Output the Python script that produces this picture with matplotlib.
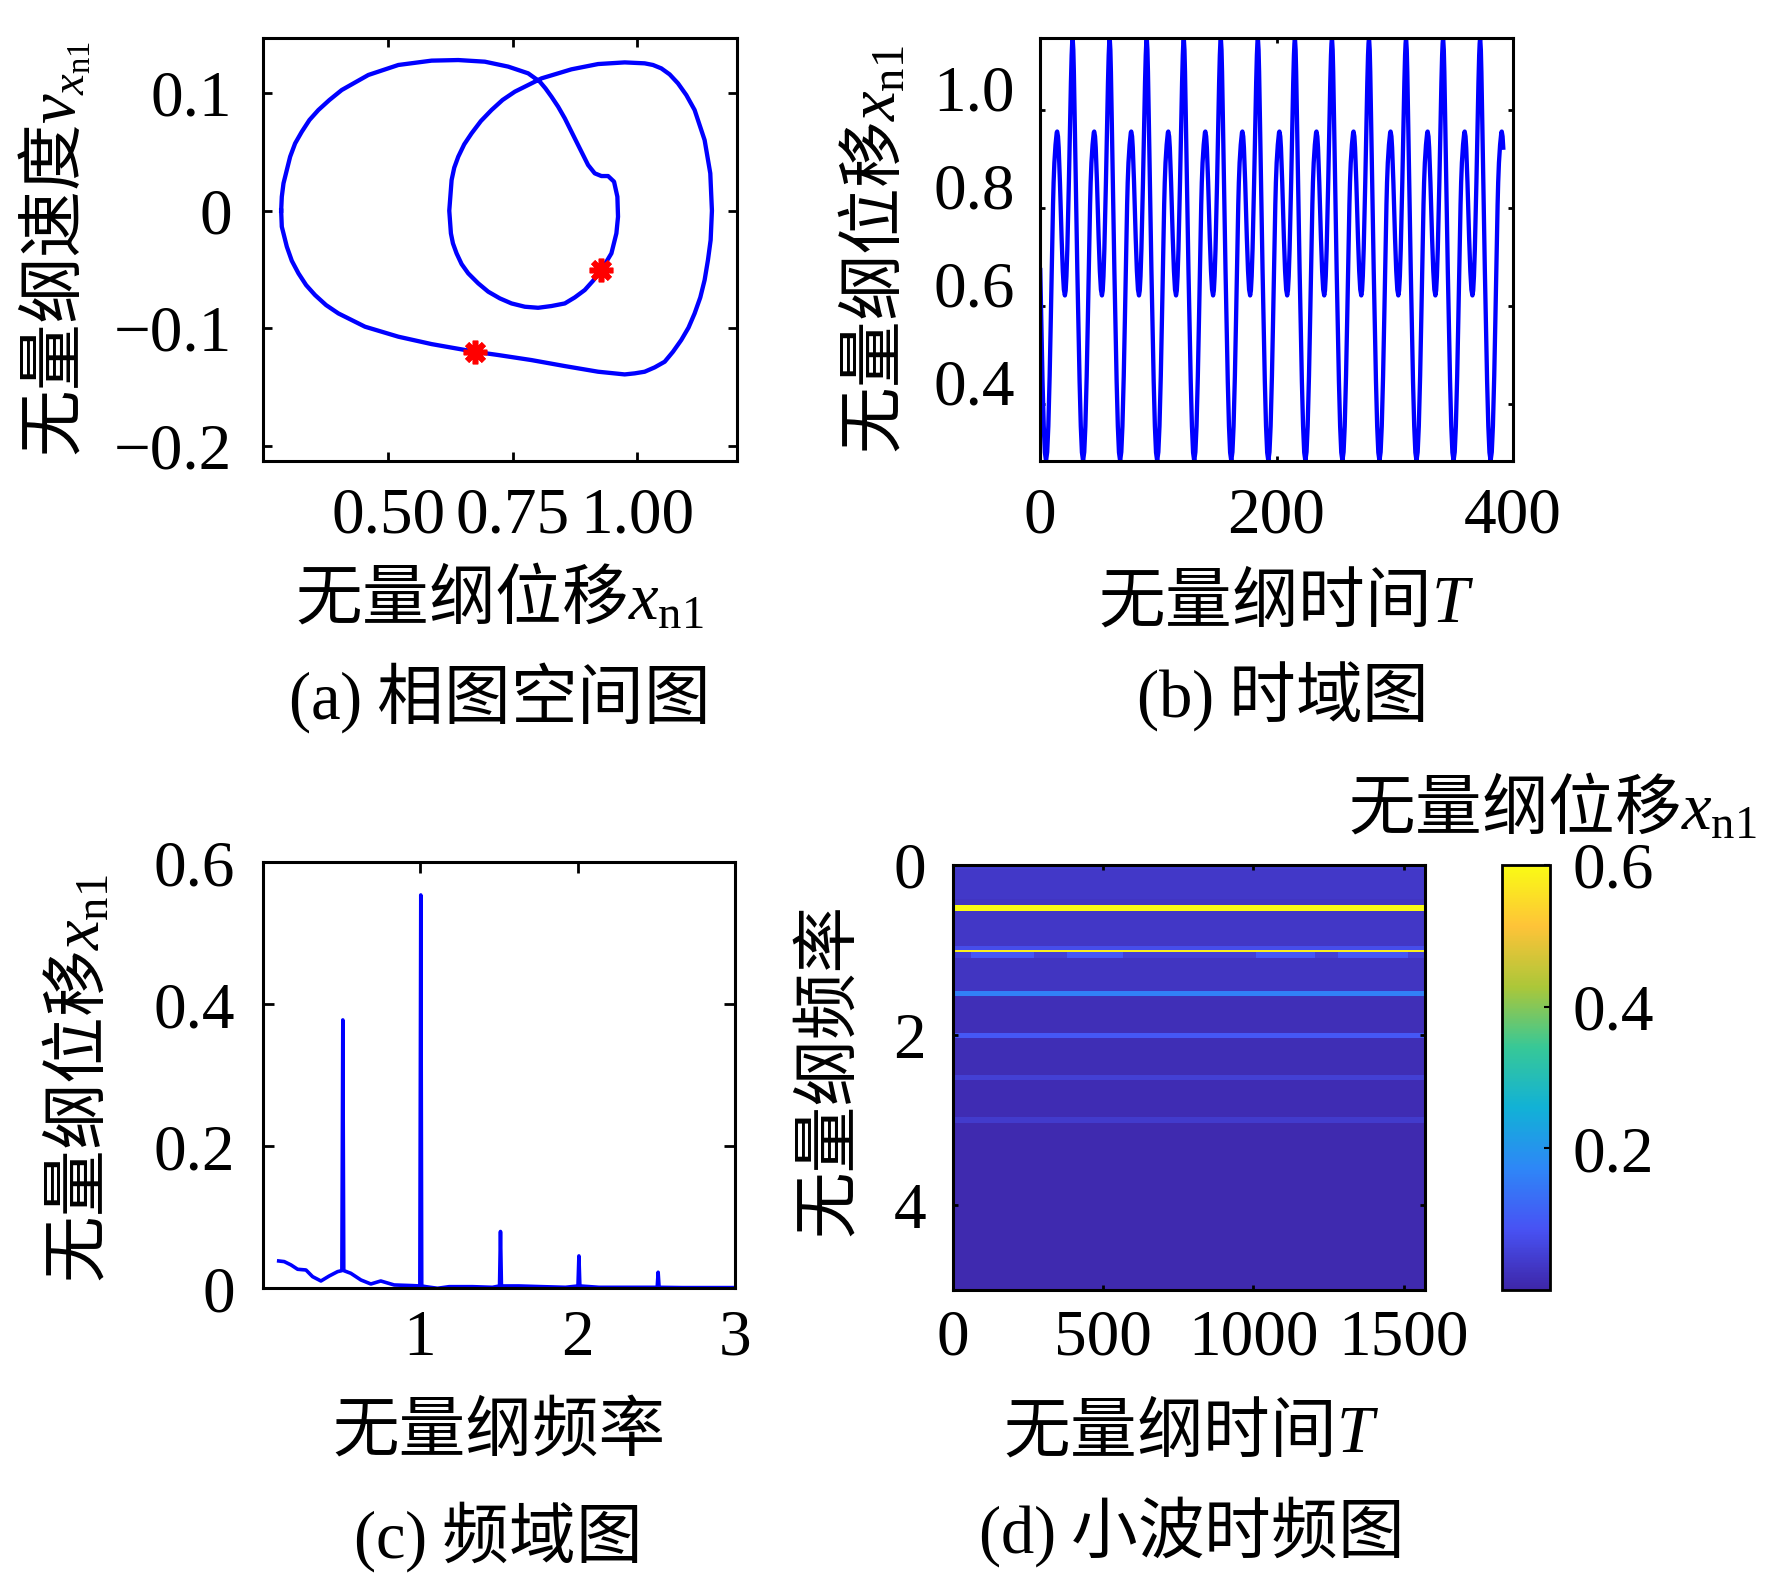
import numpy as np
import matplotlib
matplotlib.use('Agg')
import matplotlib.pyplot as plt
from matplotlib.colors import LinearSegmentedColormap

plt.rcParams['font.family'] = ['Liberation Serif', 'Noto Sans CJK SC']
plt.rcParams['mathtext.fontset'] = 'custom'
plt.rcParams['mathtext.rm'] = 'Liberation Serif'
plt.rcParams['mathtext.it'] = 'Liberation Serif:italic'
plt.rcParams['axes.unicode_minus'] = True

CJK = 'Noto Sans CJK SC'
BLUE = '#0000ff'

# (a) phase portrait
phase_x = [0.2845, 0.2858, 0.2892, 0.3026, 0.3126, 0.326, 0.3414, 0.3594, 0.3815, 0.4063,
           0.4598, 0.5201, 0.587, 0.6406, 0.6941, 0.741, 0.7811, 0.8046, 0.8159, 0.828,
           0.8414, 0.8548, 0.8815, 0.9016, 0.915, 0.9284, 0.9418, 0.9538, 0.9605, 0.9618,
           0.9585, 0.9485, 0.9284, 0.9116, 0.8949, 0.8748, 0.8548, 0.828, 0.8012, 0.7744,
           0.7477, 0.7242, 0.7008, 0.6807, 0.6606, 0.6473, 0.6372, 0.6299, 0.6258, 0.6225,
           0.6272, 0.6325, 0.6406, 0.6526, 0.6673, 0.6861, 0.7075, 0.7296, 0.7544, 0.8079,
           0.8681, 0.9217, 0.9752, 1.0154, 1.0321, 1.0489, 1.0656, 1.0823, 1.0991, 1.1158,
           1.1359, 1.1473, 1.1506, 1.148, 1.1426, 1.1359, 1.1272, 1.1158, 1.1035, 1.089,
           1.0723, 1.0556, 1.0355, 1.0154, 0.9953, 0.9752, 0.9217, 0.8548, 0.7878, 0.7209,
           0.674, 0.587, 0.5201, 0.4531, 0.3996, 0.3748, 0.3527, 0.3347, 0.3193, 0.3059,
           0.2959, 0.2858, 0.2845]
phase_v = [0.0, 0.0119, 0.0233, 0.046, 0.0573, 0.0672, 0.0772, 0.0857, 0.0942, 0.1027,
           0.1155, 0.124, 0.1277, 0.1282, 0.1268, 0.1226, 0.1169, 0.1098, 0.1041, 0.097,
           0.0885, 0.0786, 0.0559, 0.0389, 0.0318, 0.0295, 0.0295, 0.0247, 0.0119, -0.0051,
           -0.0193, -0.0363, -0.0505, -0.0596, -0.0675, -0.0738, -0.0789, -0.0811, -0.0826, -0.0817,
           -0.0789, -0.0746, -0.0689, -0.0618, -0.0533, -0.0454, -0.0363, -0.0278, -0.0193, 0.0,
           0.0261, 0.0366, 0.046, 0.0565, 0.0658, 0.0763, 0.0857, 0.0942, 0.1013, 0.1126,
           0.1203, 0.1248, 0.1262, 0.1254, 0.1240, 0.1211, 0.116, 0.1084, 0.0984, 0.0857,
           0.0601, 0.0318, 0.0, -0.025, -0.042, -0.059, -0.0738, -0.0874, -0.0995, -0.11,
           -0.12, -0.1285, -0.1333, -0.137, -0.1384, -0.1393, -0.137, -0.1322, -0.1271, -0.1228,
           -0.12, -0.1135, -0.1072, -0.0987, -0.0874, -0.0803, -0.0718, -0.0633, -0.0533, -0.0426,
           -0.0306, -0.0136, 0.0]
poincare_x = [0.674, 0.928]
poincare_v = [-0.120, -0.0505]

# (b) one period of the time response (time from the lower trough)
cycle_t = [0.0, 0.99, 1.95, 3.06, 4.01, 5.34, 5.92, 6.41, 7.05, 8.02, 9.05, 9.42,
           10.12, 10.70, 11.77, 13.16, 14.18, 15.08, 15.95,
           16.61, 17.25, 18.01, 18.80, 19.32, 20.66, 21.05, 21.66, 22.08, 22.50,
           23.08, 23.54, 24.05, 24.37, 25.55, 26.46, 27.48, 28.38, 29.39, 30.36]
cycle_x = [0.284, 0.302, 0.355, 0.457, 0.570, 0.740, 0.808, 0.853, 0.893, 0.930, 0.955, 0.957,
           0.947, 0.924, 0.853, 0.740, 0.672, 0.634, 0.622,
           0.632, 0.661, 0.717, 0.796, 0.853, 1.011, 1.057, 1.113, 1.137, 1.149,
           1.124, 1.079, 1.011, 0.966, 0.796, 0.674, 0.548, 0.446, 0.355, 0.301]
period_b = 31.33
phase_shift_b = 26.23
t_end_b = 392.0

# (c) amplitude spectrum
spec_f = [0.103, 0.138, 0.181, 0.223, 0.276, 0.318, 0.371, 0.424, 0.477, 0.504, 0.510, 0.516,
          0.561, 0.625, 0.688, 0.751, 0.836, 0.952, 0.999, 1.005, 1.011, 1.037, 1.111, 1.185,
          1.333, 1.46, 1.505, 1.511, 1.517, 1.628, 1.776, 1.924, 2.003, 2.009, 2.015, 2.136,
          2.348, 2.506, 2.512, 2.518, 2.664, 2.98, 3.0]
spec_a = [0.0385, 0.0376, 0.0329, 0.0268, 0.0258, 0.0164, 0.0103, 0.0174, 0.0235, 0.0249, 0.378, 0.0249,
          0.0211, 0.0117, 0.0061, 0.0103, 0.0047, 0.0038, 0.0033, 0.554, 0.0033, 0.0023, 0.0, 0.0023,
          0.0023, 0.0014, 0.0033, 0.080, 0.0033, 0.0033, 0.0023, 0.0014, 0.0033, 0.0456, 0.0033, 0.0014,
          0.0014, 0.0014, 0.0226, 0.0014, 0.001, 0.001, 0.001]

# (d) wavelet time-frequency map
wt_freq_edges = [0.0, 0.05, 0.40, 0.475, 0.542, 0.95, 0.996, 1.024, 1.09, 1.48, 1.54,
                 1.98, 2.03, 2.47, 2.53, 2.97, 3.03, 5.0]
wt_row_vals = [0.045, 0.036, 0.030, 0.60, 0.034, 0.075, 0.58, 0.05, 0.030, 0.16,
               0.018, 0.095, 0.015, 0.05, 0.012, 0.04, 0.008]
wt_time_edges = [0, 60, 270, 380, 565, 1010, 1205, 1280, 1515, 1570]
wt_halo_vals = [0.05, 0.095, 0.05, 0.095, 0.05, 0.095, 0.05, 0.095, 0.05]
wt_halo_row = 7

# tick labels
a_xticks, a_xlabels = [0.5, 0.75, 1.0], ['0.50', '0.75', '1.00']
a_yticks, a_ylabels = [-0.2, -0.1, 0, 0.1], ['\u22120.2', '\u22120.1', '0', '0.1']
b_xticks, b_xlabels = [0, 200, 400], ['0', '200', '400']
b_yticks, b_ylabels = [0.4, 0.6, 0.8, 1.0], ['0.4', '0.6', '0.8', '1.0']
c_xticks, c_xlabels = [1, 2, 3], ['1', '2', '3']
c_yticks, c_ylabels = [0, 0.2, 0.4, 0.6], ['0', '0.2', '0.4', '0.6']
d_xticks, d_xlabels = [0, 500, 1000, 1500], ['0', '500', '1000', '1500']
d_yticks, d_ylabels = [0, 2, 4], ['0', '2', '4']
cb_ticks, cb_labels = [0.2, 0.4, 0.6], ['0.2', '0.4', '0.6']

parula = LinearSegmentedColormap.from_list('parula', [
    (0.2422, 0.1504, 0.6603), (0.2810, 0.3228, 0.9579), (0.1786, 0.5289, 0.9682),
    (0.0689, 0.6948, 0.8394), (0.2161, 0.7843, 0.5923), (0.6720, 0.7793, 0.2227),
    (0.9970, 0.7659, 0.2199), (0.9769, 0.9839, 0.0805)])

W, H = 1772, 1574
FS = 47
LFS = 48


def rect(l, t, r, b):
    return [l / W, 1 - b / H, (r - l) / W, (b - t) / H]


def style(ax, length, pad_x, pad_y):
    ax.tick_params(direction='in', top=True, right=True, length=length, width=2,
                   labelsize=FS)
    ax.tick_params(axis='x', pad=pad_x)
    ax.tick_params(axis='y', pad=pad_y)
    for s in ax.spines.values():
        s.set_linewidth(2.2)


def caption(x, y, s):
    fig.text(x / W, 1 - y / H, s, family=CJK, fontsize=LFS, ha='center', va='center')


fig = plt.figure(figsize=(17.72, 15.74), dpi=100)

# (a)
ax_a = fig.add_axes(rect(263, 37.6, 736.5, 460.8))
ax_a.plot(phase_x, phase_v, color=BLUE, lw=3.1, solid_joinstyle='round')
ax_a.plot(poincare_x, poincare_v, ls='none', marker=(8, 2, 0), ms=17, mew=4,
          color='#ff0000')
ax_a.set_xlim(0.248, 1.2)
ax_a.set_ylim(-0.2128, 0.1473)
style(ax_a, 6.5, 19, 22)
ax_a.set_xticks(a_xticks, labels=a_xlabels)
ax_a.set_yticks(a_yticks, labels=a_ylabels)
ax_a.set_xlabel(r'无量纲位移$x_{\mathrm{n1}}$', family=CJK, fontsize=LFS, va='center')
ax_a.xaxis.set_label_coords(0.5, -0.329)
ax_a.set_ylabel(r'无量纲速度$v_{x_{\mathrm{n1}}}$', family=CJK, fontsize=LFS, va='center')
ax_a.yaxis.set_label_coords(-0.44, 0.5)

# (b)
n_cycles = int(np.ceil((t_end_b + phase_shift_b) / period_b)) + 1
tb = np.concatenate([np.array(cycle_t) + k * period_b for k in range(n_cycles)]) - phase_shift_b
xb = np.tile(cycle_x, n_cycles)
keep = (tb >= 0) & (tb <= t_end_b)
ax_b = fig.add_axes(rect(1040, 37.6, 1513, 460.8))
ax_b.plot(tb[keep], xb[keep], color=BLUE, lw=3.1, solid_joinstyle='round')
ax_b.set_xlim(0, 400)
ax_b.set_ylim(0.284, 1.149)
style(ax_b, 3.6, 19, 18)
ax_b.set_xticks(b_xticks, labels=b_xlabels)
ax_b.set_yticks(b_yticks, labels=b_ylabels, va='baseline')
ax_b.set_xlabel(r'无量纲时间$T$', family=CJK, fontsize=LFS, va='center')
ax_b.xaxis.set_label_coords(0.52, -0.336)
ax_b.set_ylabel(r'无量纲位移$x_{\mathrm{n1}}$', family=CJK, fontsize=LFS, va='center')
ax_b.yaxis.set_label_coords(-0.348, 0.5)

# (c)
ax_c = fig.add_axes(rect(262.5, 862.3, 735, 1288.3))
ax_c.plot(spec_f, spec_a, color=BLUE, lw=2.6)
ax_c.set_xlim(0, 3)
ax_c.set_ylim(0, 0.6)
style(ax_c, 8, 15, 20)
ax_c.set_xticks(c_xticks, labels=c_xlabels)
ax_c.set_yticks(c_yticks, labels=c_ylabels)
ax_c.set_xlabel('无量纲频率', fontsize=LFS, va='center')
ax_c.xaxis.set_label_coords(0.5, -0.34)
ax_c.set_ylabel(r'无量纲位移$x_{\mathrm{n1}}$', family=CJK, fontsize=LFS, va='center')
ax_c.yaxis.set_label_coords(-0.387, 0.491)

# (d)
z = np.tile(np.array(wt_row_vals)[:, None], (1, len(wt_time_edges) - 1))
z[wt_halo_row] = wt_halo_vals
ax_d = fig.add_axes(rect(952.5, 865, 1425, 1290))
mesh = ax_d.pcolormesh(wt_time_edges, wt_freq_edges, z, cmap=parula, vmin=0, vmax=0.6,
                       shading='flat')
ax_d.set_xlim(0, 1570)
ax_d.set_ylim(5, 0)
style(ax_d, 3.6, 14, 19)
ax_d.set_xticks(d_xticks, labels=d_xlabels)
ax_d.set_yticks(d_yticks, labels=d_ylabels)
ax_d.set_xlabel(r'无量纲时间$T$', family=CJK, fontsize=LFS, va='center')
ax_d.xaxis.set_label_coords(0.505, -0.335)
ax_d.set_ylabel('无量纲频率', fontsize=LFS, va='center')
ax_d.yaxis.set_label_coords(-0.259, 0.518)

cax = fig.add_axes(rect(1502, 865, 1550, 1290))
cbar = fig.colorbar(mesh, cax=cax)
cbar.set_ticks(cb_ticks, labels=cb_labels)
cbar.outline.set_linewidth(2)
cax.tick_params(direction='in', length=4, width=1.5, labelsize=FS, pad=16)
fig.text(1552 / W, 1 - 810 / H, r'无量纲位移$x_{\mathrm{n1}}$', family=CJK,
         fontsize=LFS, ha='center', va='center')

caption(497, 698, r'$\mathrm{(a)}$ 相图空间图')
caption(1281, 696, r'$\mathrm{(b)}$ 时域图')
caption(496, 1537, r'$\mathrm{(c)}$ 频域图')
caption(1189, 1532, r'$\mathrm{(d)}$ 小波时频图')

fig.savefig('out.png', dpi=100)
